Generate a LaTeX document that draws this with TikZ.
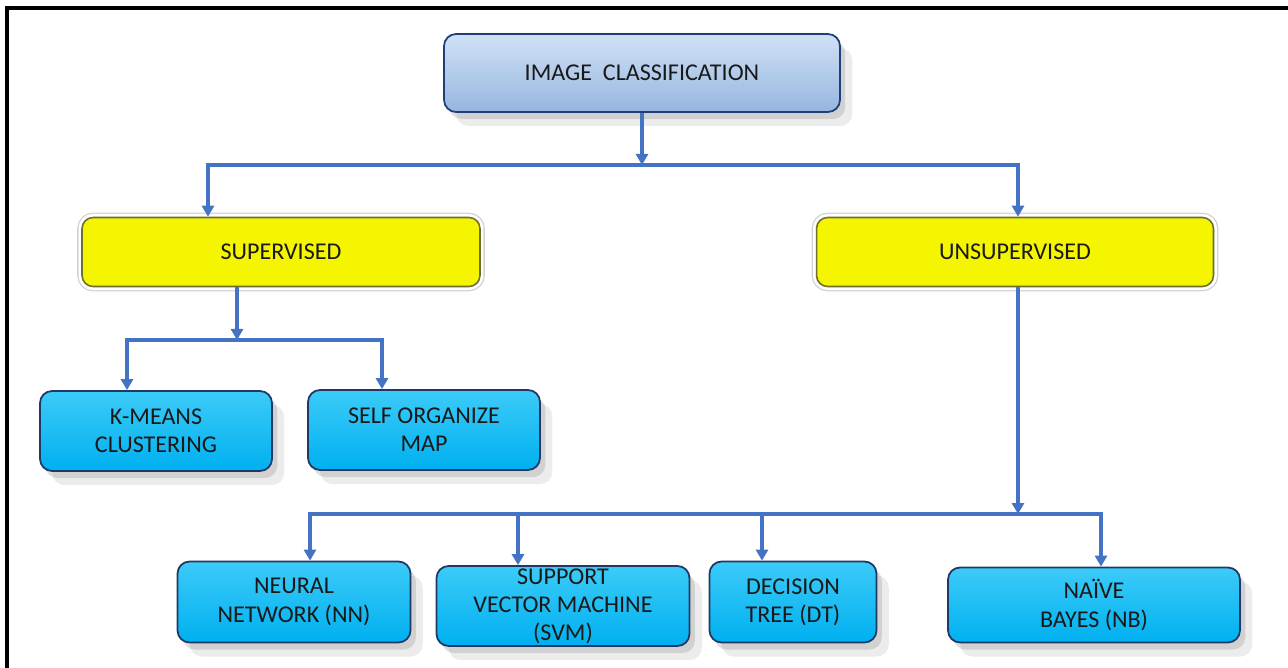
\documentclass[tikz,border=0pt]{standalone}
\usepackage{fontspec}
\setmainfont{Carlito}
\usetikzlibrary{arrows.meta,shadows}

\definecolor{topA}{HTML}{D0E1F6}
\definecolor{topB}{HTML}{96B6DF}
\definecolor{topFrame}{HTML}{1F3F75}
\definecolor{grpFill}{HTML}{F5F500}
\definecolor{grpFrame}{HTML}{6E6E30}
\definecolor{mthTop}{HTML}{3CCBF8}
\definecolor{mthBody}{HTML}{00B0F0}
\definecolor{mthFrame}{HTML}{1F3864}
\definecolor{linkBlue}{HTML}{4472C4}

\begin{document}
\begin{tikzpicture}[x=0.02cm,y=-0.02cm,>={Triangle[length=0.22cm,width=0.24cm]},
  every node/.style={font=\fontsize{13.7}{16}\selectfont,text=black!90,align=center,inner sep=0pt},
  soft shadow/.style={drop shadow={shadow xshift=3pt,shadow yshift=-4pt,opacity=.25},
    drop shadow={shadow xshift=7pt,shadow yshift=-8pt,opacity=.15}},
  class node/.style={rounded corners=0.24cm,draw=topFrame,line width=1pt,top color=topA,bottom color=topB,soft shadow},
  group node/.style={rounded corners=0.22cm,draw=grpFrame,line width=0.9pt,fill=grpFill,
    preaction={draw=gray!35,line width=5.5pt},preaction={draw=white,line width=4pt}},
  method node/.style={rounded corners=0.24cm,draw=mthFrame,line width=1pt,top color=mthTop,bottom color=mthBody,soft shadow},
  link/.style={->,draw=linkBlue,line width=2pt}]

  \useasboundingbox (0,0) rectangle (1288,668);
  \draw[line width=2.2pt] (7,668) -- (7,8) -- (1288,8);

  \node[class node,minimum width=7.92cm,minimum height=1.56cm]  (ic)  at (642,73)  {IMAGE\ \ CLASSIFICATION};
  \node[group node,minimum width=7.96cm,minimum height=1.38cm]  (sup) at (281,252) {SUPERVISED};
  \node[group node,minimum width=7.94cm,minimum height=1.38cm]  (uns) at (1015,252) {UNSUPERVISED};
  \node[method node,minimum width=4.64cm,minimum height=1.6cm]  (km)  at (156,431) {K-MEANS\\CLUSTERING};
  \node[method node,minimum width=4.64cm,minimum height=1.6cm]  (som) at (424,430) {SELF ORGANIZE\\MAP};
  \node[method node,minimum width=4.66cm,minimum height=1.62cm] (nn)  at (294,602) {NEURAL\\NETWORK (NN)};
  \node[method node,minimum width=5.06cm,minimum height=1.6cm]  (svm) at (563,606) {SUPPORT\\VECTOR MACHINE\\(SVM)};
  \node[method node,minimum width=3.34cm,minimum height=1.62cm] (dt)  at (793,602) {DECISION\\TREE (DT)};
  \node[method node,minimum width=5.84cm,minimum height=1.5cm]  (nb)  at (1094,605) {NAÏVE\\BAYES (NB)};

  % branch points
  \coordinate (t)  at (642,165);
  \coordinate (tl) at (208,165);
  \coordinate (tr) at (1018,165);
  \coordinate (s)  at (237,340);
  \coordinate (sl) at (127,340);
  \coordinate (sr) at (382,340);
  \coordinate (u)  at (1018,514);
  \coordinate (u1) at (310,514);
  \coordinate (u2) at (518,514);
  \coordinate (u3) at (762,514);
  \coordinate (u4) at (1101,514);

  \draw[link] (ic) -- (t);
  \draw[link] (t) -| (tl |- sup.north);
  \draw[link] (t) -| (tr |- uns.north);

  \draw[link] (sup.south -| s) -- (s);
  \draw[link] (s) -| (sl |- km.north);
  \draw[link] (s) -| (sr |- som.north);

  \draw[link] (uns.south -| u) -- (u);
  \draw[link] (u) -| (u1 |- nn.north);
  \draw[link] (u) -| (u2 |- svm.north);
  \draw[link] (u) -| (u3 |- dt.north);
  \draw[link] (u) -| (u4 |- nb.north);
\end{tikzpicture}
\end{document}
